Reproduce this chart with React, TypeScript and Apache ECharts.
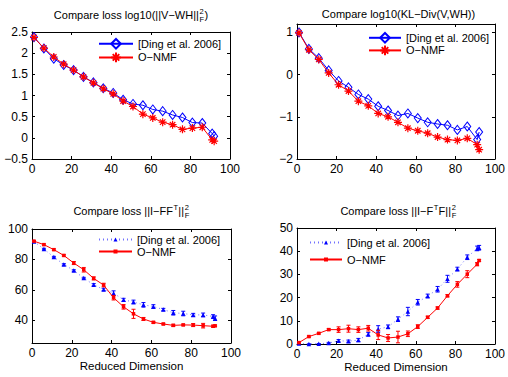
import React, { useEffect, useRef } from 'react';
import * as echarts from 'echarts';

const FONT = 'Liberation Sans';

const dims = [1, 6, 11, 16, 21, 26, 31, 36, 41, 46, 51, 56, 61, 66, 71, 76, 81, 86, 91, 92];
const xTicks = [0, 20, 40, 60, 80, 100];

// Plot 1: log10(||V-WH||_F^2)
const dingFro = [2.38, 2.11, 1.87, 1.72, 1.60, 1.44, 1.31, 1.17, 1.06, 0.90, 0.80, 0.77, 0.67, 0.63, 0.54, 0.48, 0.36, 0.35, 0.10, 0.04];
const onmfFro = [2.37, 2.12, 1.91, 1.74, 1.60, 1.44, 1.30, 1.16, 1.04, 0.87, 0.74, 0.56, 0.47, 0.37, 0.31, 0.20, 0.23, 0.25, -0.05, -0.08];
const yTicksFro = [-0.5, 0, 0.5, 1, 1.5, 2, 2.5];

// Plot 2: log10(KL-Div)
const dingKL = [1.0, 0.61, 0.39, 0.10, -0.15, -0.30, -0.47, -0.58, -0.75, -0.85, -0.97, -0.92, -1.03, -1.13, -1.17, -1.20, -1.31, -1.23, -1.54, -1.36];
const onmfKL = [0.99, 0.59, 0.36, 0.04, -0.24, -0.39, -0.63, -0.74, -0.92, -1.00, -1.13, -1.27, -1.33, -1.39, -1.48, -1.54, -1.56, -1.51, -1.66, -1.78];
const yTicksKL = [-2, -1, 0, 1];

// Plot 3: ||I - F F^T||_F^2 with error bars
const dingFFt = [91.8, 86.8, 81.5, 76.7, 72.7, 67.7, 63.3, 60.2, 57.8, 53.4, 52.0, 50.1, 49.0, 47.0, 44.9, 44.4, 43.5, 43.5, 42.4, 41.3];
const dingFFtErr = [0.3, 0.5, 0.5, 0.5, 0.5, 0.5, 0.8, 0.8, 1.5, 1.0, 1.2, 1.5, 1.2, 0.8, 1.5, 1.5, 1.0, 1.2, 1.2, 1.5];
const onmfFFt = [92.0, 89.7, 86.4, 82.6, 77.6, 73.2, 67.5, 63.1, 54.8, 48.8, 44.2, 40.8, 38.6, 37.5, 36.6, 36.9, 36.8, 36.4, 36.0, 36.3];
const onmfFFtErr = [0.3, 0.5, 0.5, 0.5, 1.0, 1.5, 1.0, 1.2, 1.5, 1.5, 3.0, 1.0, 0.6, 0.5, 0.7, 0.5, 1.0, 1.5, 0.7, 0.5];
const yTicksFFt = [40, 60, 80, 100];

// Plot 4: ||I - F^T F||_F^2 with error bars
const dingFtF = [0.2, 0.0, 0.1, 0.4, 1.4, 1.2, 1.7, 4.2, 6.4, 7.4, 10.7, 14.0, 18.0, 20.7, 23.6, 28.1, 32.3, 37.4, 41.2, 41.5];
const dingFtFErr = [0, 0, 0, 0.3, 0.5, 0.5, 0.7, 0.8, 1.5, 0.8, 1.0, 1.8, 1.2, 0.8, 1.2, 1.5, 0.8, 1.0, 1.0, 1.0];
const onmfFtF = [0.6, 3.2, 4.6, 6.2, 6.2, 6.6, 6.2, 6.8, 3.9, 2.6, 3.0, 4.4, 7.5, 11.5, 15.5, 20.8, 25.7, 30.1, 34.4, 36.0];
const onmfFtFErr = [0.3, 0.3, 0.3, 0.4, 1.2, 1.5, 1.2, 1.2, 2.0, 1.5, 2.5, 1.2, 0.8, 0.5, 0.5, 0.5, 1.2, 1.5, 0.7, 0.4];
const yTicksFtF = [0, 10, 20, 30, 40, 50];

const legendLabels = ['[Ding et al. 2006]', 'O\u2212NMF'];
const xAxisName = 'Reduced Dimension';

type Tok = { t: 'n'; s: string } | { t: 'sup'; s: string } | { t: 'ss'; a: string; b: string };
const title1: Tok[] = [{ t: 'n', s: 'Compare loss log10(||V\u2212WH||' }, { t: 'ss', a: '2', b: 'F' }, { t: 'n', s: ')' }];
const title2: Tok[] = [{ t: 'n', s: 'Compare log10(KL\u2212Div(V,WH))' }];
const title3: Tok[] = [{ t: 'n', s: 'Compare loss ||I\u2212FF' }, { t: 'sup', s: 'T' }, { t: 'n', s: '||' }, { t: 'ss', a: '2', b: 'F' }];
const title4: Tok[] = [{ t: 'n', s: 'Compare loss ||I\u2212F' }, { t: 'sup', s: 'T' }, { t: 'n', s: 'F||' }, { t: 'ss', a: '2', b: 'F' }];

const BLUE = '#0000ff';
const RED = '#ff0000';
const ASTERISK = 'path://M5,0L5,10M0,5L10,5M1.6,1.6L8.4,8.4M1.6,8.4L8.4,1.6';

let measureCtx: CanvasRenderingContext2D | null = null;
function tw(s: string, size: number): number {
  if (!measureCtx) measureCtx = document.createElement('canvas').getContext('2d');
  if (!measureCtx) return s.length * size * 0.55;
  measureCtx.font = `${size}px "${FONT}"`;
  return measureCtx.measureText(s).width;
}

function txt(s: string, x: number, y: number, size: number) {
  return {
    type: 'text',
    x,
    y,
    silent: true,
    style: { text: s, fontSize: size, fontFamily: FONT, fill: '#000', textAlign: 'left', textVerticalAlign: 'middle', align: 'left', verticalAlign: 'middle' },
  };
}

function buildTitle(toks: Tok[], cx: number, cy: number) {
  const MAIN = 11;
  const SMALL = 7.5;
  const ws = toks.map((k) =>
    k.t === 'n' ? tw(k.s, MAIN) : k.t === 'sup' ? tw(k.s, SMALL) + 0.8 : Math.max(tw(k.a, SMALL), tw(k.b, SMALL)) + 1
  );
  const total = ws.reduce((a, b) => a + b, 0);
  let x = cx - total / 2;
  const out: any[] = [];
  toks.forEach((k, i) => {
    if (k.t === 'n') out.push(txt(k.s, x, cy, MAIN));
    else if (k.t === 'sup') out.push(txt(k.s, x + 0.5, cy - 3.5, SMALL));
    else {
      out.push(txt(k.a, x + 0.6, cy - 3.2, SMALL));
      out.push(txt(k.b, x + 0.6, cy + 4.6, SMALL));
    }
    x += ws[i];
  });
  return out;
}

const fmt = (v: number) => (v < 0 ? '\u2212' + String(Math.abs(v)) : String(v));

function errData(vals: number[], errs: number[]) {
  return dims.map((d, i) => [d, vals[i] - errs[i], vals[i] + errs[i]]);
}

function errSeries(idx: number, data: number[][], color: string, z: number) {
  return {
    type: 'custom',
    xAxisIndex: idx * 2,
    yAxisIndex: idx * 2,
    data,
    encode: { x: 0, y: [1, 2] },
    silent: true,
    z,
    renderItem: (_params: any, api: any) => {
      const x = api.value(0);
      const p1 = api.coord([x, api.value(1)]);
      const p2 = api.coord([x, api.value(2)]);
      const w = 2;
      const st = { stroke: color, lineWidth: 1 };
      return {
        type: 'group',
        children: [
          { type: 'line', shape: { x1: p1[0], y1: p1[1], x2: p2[0], y2: p2[1] }, style: st },
          { type: 'line', shape: { x1: p1[0] - w, y1: p1[1], x2: p1[0] + w, y2: p1[1] }, style: st },
          { type: 'line', shape: { x1: p2[0] - w, y1: p2[1], x2: p2[0] + w, y2: p2[1] }, style: st },
        ],
      };
    },
  };
}

const pts = (vals: number[]) => dims.map((d, i) => [d, vals[i]]);

export default function App() {
  const ref = useRef<HTMLDivElement>(null);
  useEffect(() => {
    if (!ref.current) return;
    const chart = echarts.init(ref.current, null, { renderer: 'svg' });

    const grids = [
      { left: 32, top: 32, width: 198, height: 127 },
      { left: 297, top: 24, width: 203, height: 135 },
      { left: 32, top: 229, width: 199, height: 114 },
      { left: 297, top: 228, width: 203, height: 116 },
    ];
    const yCfg = [
      { min: -0.5, max: 2.5, ticks: yTicksFro },
      { min: -2, max: 1.2, ticks: yTicksKL },
      { min: 25, max: 100, ticks: yTicksFFt },
      { min: 0, max: 50, ticks: yTicksFtF },
    ];

    const xAxes: any[] = [];
    const yAxes: any[] = [];
    grids.forEach((_g, i) => {
      const bottomPlot = i >= 2;
      const lineStyle = { color: '#000', width: 1 };
      const tick = { inside: true, length: 3, lineStyle: { color: '#000', width: 1 }, customValues: xTicks };
      const xa = {
        gridIndex: i,
        type: 'value',
        min: 0,
        max: 100,
        interval: 20,
        axisLine: { show: true, onZero: false, lineStyle },
        splitLine: { show: false },
      };
      xAxes.push({
        ...xa,
        position: 'bottom',
        axisTick: tick,
        axisLabel: { color: '#000', fontSize: 12, fontFamily: FONT, margin: 4, formatter: fmt, customValues: xTicks },
        name: bottomPlot ? xAxisName : '',
        nameLocation: 'middle',
        nameGap: 17,
        nameTextStyle: { color: '#000', fontSize: 11.5, fontFamily: FONT, verticalAlign: 'top' },
      });
      xAxes.push({ ...xa, position: 'top', axisTick: tick, axisLabel: { show: false } });
      const yc = yCfg[i];
      const ytick = { inside: true, length: 3, lineStyle: { color: '#000', width: 1 }, customValues: yc.ticks };
      const ya = {
        gridIndex: i,
        type: 'value',
        min: yc.min,
        max: yc.max,
        axisLine: { show: true, onZero: false, lineStyle },
        splitLine: { show: false },
      };
      yAxes.push({
        ...ya,
        position: 'left',
        axisTick: ytick,
        axisLabel: { color: '#000', fontSize: 12, fontFamily: FONT, margin: 4, formatter: fmt, customValues: yc.ticks },
      });
      yAxes.push({ ...ya, position: 'right', axisTick: ytick, axisLabel: { show: false } });
    });

    const lineBase = { type: 'line', animation: false, silent: true };
    const diamondSeries = (idx: number, name: string, vals: number[]) => ({
      ...lineBase,
      name,
      xAxisIndex: idx * 2,
      yAxisIndex: idx * 2,
      data: pts(vals),
      symbol: 'diamond',
      symbolSize: [7, 9],
      showAllSymbol: true,
      lineStyle: { color: BLUE, width: 1 },
      itemStyle: { color: 'rgba(255,255,255,0)', borderColor: BLUE, borderWidth: 1 },
      z: 2,
    });
    const starSeries = (idx: number, name: string, vals: number[]) => ({
      ...lineBase,
      name,
      xAxisIndex: idx * 2,
      yAxisIndex: idx * 2,
      data: pts(vals),
      symbol: ASTERISK,
      symbolSize: 8,
      showAllSymbol: true,
      lineStyle: { color: RED, width: 1 },
      itemStyle: { color: RED, borderColor: RED, borderWidth: 1.2 },
      z: 3,
    });
    const triSeries = (idx: number, name: string, vals: number[]) => ({
      ...lineBase,
      name,
      xAxisIndex: idx * 2,
      yAxisIndex: idx * 2,
      data: pts(vals),
      symbol: 'triangle',
      symbolSize: 4.5,
      showAllSymbol: true,
      lineStyle: { color: '#7070ff', width: 1, type: [1, 3] },
      itemStyle: { color: BLUE, borderWidth: 0 },
      z: 2,
    });
    const dotSeries = (idx: number, name: string, vals: number[]) => ({
      ...lineBase,
      name,
      xAxisIndex: idx * 2,
      yAxisIndex: idx * 2,
      data: pts(vals),
      symbol: 'rect',
      symbolSize: 3.5,
      showAllSymbol: true,
      lineStyle: { color: RED, width: 1 },
      itemStyle: { color: RED, borderWidth: 0 },
      z: 4,
    });

    const nameMap: Record<string, string> = {
      dingA: legendLabels[0],
      onmfA: legendLabels[1],
      dingB: legendLabels[0],
      onmfB: legendLabels[1],
    };
    const legendBase = {
      orient: 'vertical',
      padding: 0,
      selectedMode: false,
      textStyle: { color: '#000', fontSize: 11, fontFamily: FONT },
      formatter: (n: string) => nameMap[n] || n,
    };

    const option: any = {
      animation: false,
      backgroundColor: '#fff',
      grid: grids.map((g) => ({ ...g, containLabel: false })),
      xAxis: xAxes,
      yAxis: yAxes,
      legend: [
        { ...legendBase, left: 98, top: 38, itemWidth: 34, itemHeight: 12, itemGap: 2, data: ['dingA', 'onmfA'] },
        { ...legendBase, left: 368, top: 32, itemWidth: 32, itemHeight: 12, itemGap: 1, data: ['dingA', 'onmfA'] },
        { ...legendBase, left: 98, top: 234, itemWidth: 33, itemHeight: 5, itemGap: 1, data: ['dingB', 'onmfB'] },
        { ...legendBase, left: 309, top: 237, itemWidth: 32, itemHeight: 5, itemGap: 6, data: ['dingB', 'onmfB'] },
      ],
      graphic: [
        ...buildTitle(title1, 131, 14.5),
        ...buildTitle(title2, 398.5, 13.5),
        ...buildTitle(title3, 131.5, 211),
        ...buildTitle(title4, 398.5, 211),
      ],
      series: [
        diamondSeries(0, 'dingA', dingFro),
        starSeries(0, 'onmfA', onmfFro),
        diamondSeries(1, 'dingA', dingKL),
        starSeries(1, 'onmfA', onmfKL),
        errSeries(2, errData(dingFFt, dingFFtErr), BLUE, 2),
        triSeries(2, 'dingB', dingFFt),
        errSeries(2, errData(onmfFFt, onmfFFtErr), RED, 3),
        dotSeries(2, 'onmfB', onmfFFt),
        errSeries(3, errData(dingFtF, dingFtFErr), BLUE, 2),
        triSeries(3, 'dingB', dingFtF),
        errSeries(3, errData(onmfFtF, onmfFtFErr), RED, 3),
        dotSeries(3, 'onmfB', onmfFtF),
      ],
    };
    chart.setOption(option);
    return () => chart.dispose();
  }, []);

  return (
    <div
      ref={ref}
      style={{ position: 'absolute', left: 0, top: 0, width: 508, height: 377, background: '#fff' }}
    />
  );
}
